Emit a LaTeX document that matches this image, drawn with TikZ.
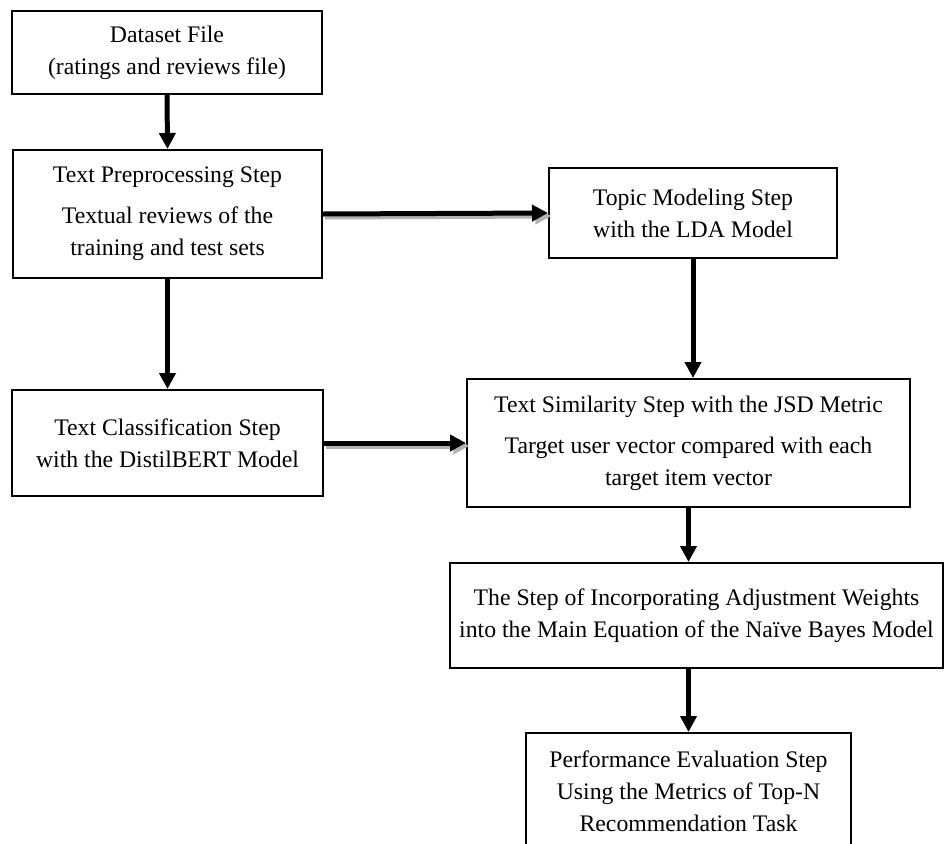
\documentclass[tikz,border=0pt]{standalone}
\usepackage{fontspec}
\setmainfont{Liberation Serif}
\usetikzlibrary{arrows.meta}

\begin{document}
\begin{tikzpicture}[x=0.75pt,y=-0.75pt,
  stepbox/.style={draw, line width=1.5pt, align=center, inner sep=0pt,
    font={\fontsize{17.8pt}{24pt}\selectfont}},
  flow/.style={line width=3.75pt, -{Triangle[length=12pt,width=12pt]}},
  flowshadow/.style={line width=3.75pt, draw=black!30, -{Triangle[length=12pt,width=12pt]}, shorten >=-1pt}
]
\useasboundingbox (0,0) rectangle (946,843);
\clip (0,0) rectangle (946,843);

% process steps
\node[stepbox, minimum width=232.5pt, minimum height=62.25pt] (data) at (167,52.5)
  {Dataset File\\(ratings and reviews file)};
\node[stepbox, minimum width=231.75pt, minimum height=96pt] (prep) at (167.5,214)
  {Text Preprocessing Step\\[7pt]Textual reviews of the\\training and test sets};
\node[stepbox, minimum width=233.25pt, minimum height=79.5pt] (cls) at (167.5,443)
  {Text Classification Step\\with the DistilBERT Model};
\node[stepbox, minimum width=216pt, minimum height=67.5pt] (topic) at (693,213)
  {Topic Modeling Step\\with the LDA Model};
\node[stepbox, minimum width=332.25pt, minimum height=96pt] (sim) at (688.5,443)
  {Text Similarity Step with the JSD Metric\\[7pt]Target user vector compared with each\\target item vector};
\node[stepbox, minimum width=369.75pt, minimum height=78.75pt] (nb) at (696.5,615.5)
  {The Step of Incorporating Adjustment Weights\\into the Main Equation of the Na\"ive Bayes Model};
\node[stepbox, minimum width=243.75pt, minimum height=87pt] (eval) at (688.5,791)
  {Performance Evaluation Step\\Using the Metrics of Top-N\\Recommendation Task};

% shadows under the horizontal connectors
\draw[flowshadow] ([shift={(2,3)}]prep.east) -- ([shift={(2,3)}]topic.west);
\draw[flowshadow] ([shift={(2,3)}]cls.east) -- ([shift={(2,3)}]sim.west);

% connectors
\draw[flow] (data.south) -- (prep.north);
\draw[flow] (prep.south) -- (cls.north);
\draw[flow] (prep.east) -- (topic.west);
\draw[flow] (cls.east) -- (sim.west);
\draw[flow] (topic.south) -- (topic.south |- sim.north);
\draw[flow] (sim.south) -- (sim.south |- nb.north);
\draw[flow] (eval.north |- nb.south) -- (eval.north);
\end{tikzpicture}
\end{document}
